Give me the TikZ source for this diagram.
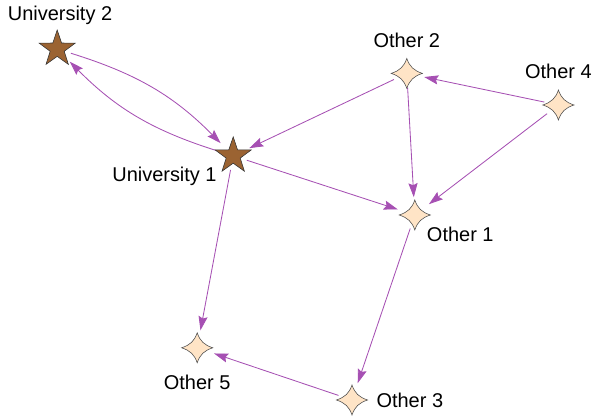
\documentclass[tikz,border=0pt]{standalone}
\usepackage{fontspec}
\setmainfont{Liberation Sans}
\definecolor{UniBrown}{HTML}{9B6332}
\definecolor{OtherPeach}{HTML}{FFE4C6}
\definecolor{LinkPurple}{HTML}{A650B3}
\usetikzlibrary{positioning,arrows.meta}
\tikzset{
  unistar/.pic={\draw[fill=UniBrown, draw=black!80, line width=0.4pt]
    (90:0.475) \foreach \k in {1,...,9} { -- ({90+36*\k}:{0.475-0.29*mod(\k,2)}) } -- cycle;},
  sparkle/.pic={\draw[fill=OtherPeach, draw=black!70, line width=0.4pt]
    (0.39,0) .. controls (0.175,0.07) and (0.07,0.169) .. (0,0.375)
    .. controls (-0.07,0.169) and (-0.175,0.07) .. (-0.39,0)
    .. controls (-0.175,-0.07) and (-0.07,-0.169) .. (0,-0.375)
    .. controls (0.07,-0.169) and (0.175,-0.07) .. (0.39,0) -- cycle;}
}

\begin{document}
\begin{tikzpicture}[
    vertex/.style={circle, minimum size=0.7cm, inner sep=0pt},
    lbl/.style={inner sep=0pt, text height=10.2pt, text depth=0pt,
      font=\fontsize{14.2pt}{17pt}\selectfont},
    link/.style={draw=LinkPurple, line width=0.6pt, shorten >=2.5pt,
      -{Stealth[length=10pt, width=6.5pt, inset=1.5pt]}}]
    \useasboundingbox (0,0) rectangle (14.8,10.475);
    % vertices
    \node[vertex] (u2) at (1.43,9.25) {};
    \node[vertex] (u1) at (5.83,6.58) {};
    \node[vertex] (o2) at (10.17,8.64) {};
    \node[vertex] (o4) at (13.96,7.85) {};
    \node[vertex] (o1) at (10.37,5.10) {};
    \node[vertex] (o5) at (4.93,1.78) {};
    \node[vertex] (o3) at (8.80,0.475) {};
    % labels
    \node[lbl, above=0.35cm of u2, xshift=2pt] (u2l) {University 2};
    \node[lbl, below left=0.03cm and 0.155cm of u1] (u1l) {University 1};
    \node[lbl, above=0.28cm of o2] (o2l) {Other 2};
    \node[lbl, above=0.29cm of o4] (o4l) {Other 4};
    \node[lbl, below right=0.05cm and 0.045cm of o1] (o1l) {Other 1};
    \node[lbl, below=0.325cm of o5] (o5l) {Other 5};
    \node[lbl, right=0.25cm of o3] (o3l) {Other 3};
    % links
    \draw[link] (u2) to[bend left=14] (u1);
    \draw[link] (u1) to[bend left=14] (u2);
    \draw[link] (o2) -- (u1);
    \draw[link] (u1) -- (o1);
    \draw[link] (u1) -- (o5);
    \draw[link] (o2) -- (o1);
    \draw[link] (o4) -- (o2);
    \draw[link] (o4) -- (o1);
    \draw[link] (o1) -- (o3);
    \draw[link] (o3) -- (o5);
    % shapes on top
    \foreach \n in {u1,u2} \pic at (\n) {unistar};
    \foreach \n in {o1,o2,o3,o4,o5} \pic at (\n) {sparkle};
  \end{tikzpicture}
\end{document}
